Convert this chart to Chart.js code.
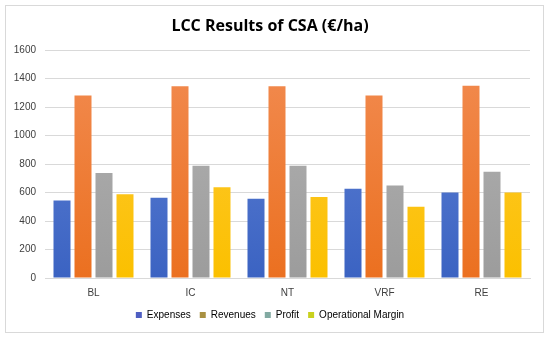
<!DOCTYPE html>
<html>
<head>
<meta charset="utf-8">
<script src="https://cdn.jsdelivr.net/npm/chart.js@4.4.0/dist/chart.umd.min.js"></script>
<style>
html,body{margin:0;padding:0;background:#fff;}
#wrap{width:550px;height:337px;position:relative;}
</style>
</head>
<body>
<div id="wrap"><canvas id="c" width="550" height="337"></canvas></div>
<script>
const categories = ['BL', 'IC', 'NT', 'VRF', 'RE'];
const expenses = [545, 564, 557, 626, 600];
const revenues = [1282, 1346, 1346, 1282, 1351];
const profit = [737, 789, 789, 649, 747];
const operationalMargin = [588, 638, 569, 500, 600];
const seriesNames = ['Expenses', 'Revenues', 'Profit', 'Operational Margin'];
const yMin = 0, yMax = 1600, yStep = 200;

const barTop = ['#6384d6', '#f28c52', '#b4b4b4', '#ffca3a'];
const barBottom = ['#3b63c2', '#eb7020', '#9c9c9c', '#fbc000'];
const legendColors = ['#4e5ec2', '#a99142', '#82aaa2', '#c9d11e'];

function grad(i) {
  return function (ctx) {
    const chart = ctx.chart;
    const a = chart.chartArea;
    if (!a) return barBottom[i];
    const g = chart.ctx.createLinearGradient(0, a.top, 0, a.bottom);
    g.addColorStop(0, barTop[i]);
    g.addColorStop(1, barBottom[i]);
    return g;
  };
}

const frame = {
  id: 'frame',
  beforeDraw(chart) {
    const c = chart.ctx;
    c.save();
    c.fillStyle = '#fff';
    c.fillRect(0, 0, chart.width, chart.height);
    c.strokeStyle = '#d9d9d9';
    c.lineWidth = 1;
    c.strokeRect(5.5, 5.5, 538, 327);
    c.restore();
  }
};

const data = [expenses, revenues, profit, operationalMargin];
new Chart(document.getElementById('c'), {
  type: 'bar',
  data: {
    labels: categories,
    datasets: seriesNames.map((n, i) => ({
      label: n,
      data: data[i],
      backgroundColor: grad(i),
      borderWidth: 0,
      categoryPercentage: 0.866,
      barPercentage: 0.81
    }))
  },
  options: {
    responsive: false,
    animation: false,
    layout: { padding: { left: 10, right: 20, top: 11, bottom: 7 } },
    plugins: {
      title: {
        display: true,
        text: 'LCC Results of CSA (€/ha)',
        color: '#000',
        font: { family: 'Open Sans', size: 16, weight: 'bold' },
        padding: { top: 6, bottom: 14 }
      },
      legend: {
        position: 'bottom',
        labels: {
          boxWidth: 6, boxHeight: 6,
          color: '#404040',
          font: { family: 'Liberation Sans', size: 10 },
          padding: 9,
          generateLabels(chart) {
            return seriesNames.map((n, i) => ({
              text: n, fillStyle: legendColors[i], strokeStyle: legendColors[i],
              lineWidth: 0, datasetIndex: i, hidden: false
            }));
          }
        }
      },
      tooltip: { enabled: false }
    },
    scales: {
      x: {
        grid: { display: false, drawTicks: false },
        border: { display: true, color: '#d9d9d9' },
        ticks: { color: '#404040', font: { family: 'Liberation Sans', size: 10 }, padding: 9 },
        afterFit(s) { s.height = 23; }
      },
      y: {
        min: yMin, max: yMax,
        ticks: { stepSize: yStep, color: '#404040', font: { family: 'Liberation Sans', size: 10 }, padding: 9,
                 callback: v => String(v) },
        grid: { color: '#d9d9d9', drawTicks: false },
        border: { display: false },
        afterFit(s) { s.width = 35; }
      }
    }
  },
  plugins: [frame]
});
</script>
</body>
</html>
